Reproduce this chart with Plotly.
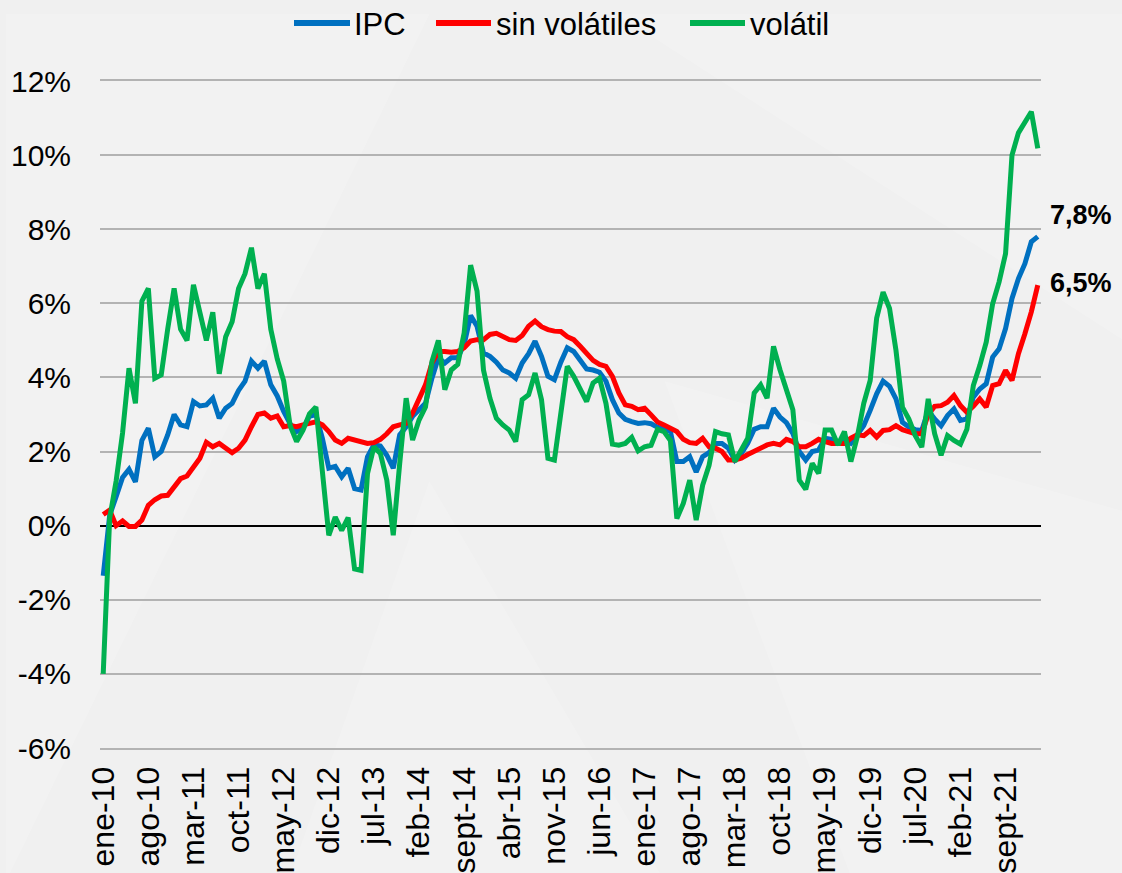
import plotly.graph_objects as go

# ---------------- data ----------------
MES = ["ene", "feb", "mar", "abr", "may", "jun", "jul", "ago", "sept", "oct", "nov", "dic"]
meses = [f"{MES[m]}-{str(y)[2:]}" for y in range(2010, 2023) for m in range(12)][:146]
tick_labels = meses[::7]

ipc = [
    -1.35, 0.28, 0.78, 1.30, 1.52, 1.18, 2.30, 2.63, 1.86, 2.00,
    2.45, 3.00, 2.72, 2.67, 3.35, 3.23, 3.26, 3.44, 2.90, 3.17,
    3.30, 3.65, 3.90, 4.44, 4.25, 4.44, 3.80, 3.50, 3.08, 2.75,
    2.54, 2.63, 2.95, 3.00, 2.36, 1.55, 1.60, 1.32, 1.55, 1.00,
    0.96, 1.86, 2.18, 2.15, 1.90, 1.55, 2.45, 2.67, 2.95, 3.13,
    3.30, 3.98, 4.53, 4.39, 4.53, 4.53, 4.89, 5.67, 5.38, 4.66,
    4.57, 4.41, 4.20, 4.12, 3.98, 4.39, 4.64, 4.98, 4.57, 4.03,
    3.94, 4.41, 4.80, 4.70, 4.48, 4.23, 4.20, 4.14, 3.90, 3.40,
    3.04, 2.87, 2.81, 2.76, 2.78, 2.75, 2.66, 2.60, 2.54, 1.73,
    1.73, 1.86, 1.45, 1.86, 1.97, 2.22, 2.22, 2.09, 1.77, 1.95,
    2.22, 2.60, 2.67, 2.67, 3.17, 2.93, 2.78, 2.49, 2.00, 1.77,
    2.00, 2.04, 2.36, 2.33, 2.22, 2.31, 2.22, 2.45, 2.70, 3.11,
    3.56, 3.90, 3.76, 3.42, 2.79, 2.66, 2.59, 2.57, 3.11, 2.88,
    2.70, 2.97, 3.15, 2.84, 2.88, 3.47, 3.69, 3.83, 4.55, 4.77,
    5.32, 6.13, 6.67, 7.07, 7.66, 7.80,
]

sin_volatiles = [
    0.30, 0.42, 0.00, 0.13, -0.02, -0.02, 0.15, 0.55, 0.70, 0.80,
    0.82, 1.05, 1.27, 1.34, 1.60, 1.82, 2.25, 2.13, 2.22, 2.09,
    1.97, 2.09, 2.31, 2.67, 3.00, 3.04, 2.90, 2.96, 2.67, 2.70,
    2.67, 2.72, 2.76, 2.80, 2.72, 2.54, 2.31, 2.22, 2.36, 2.31,
    2.27, 2.22, 2.24, 2.33, 2.48, 2.67, 2.72, 2.76, 3.04, 3.44,
    3.80, 4.39, 4.70, 4.70, 4.68, 4.70, 4.80, 4.98, 5.02, 5.02,
    5.16, 5.19, 5.10, 5.02, 5.00, 5.13, 5.38, 5.52, 5.37, 5.29,
    5.25, 5.24, 5.10, 5.02, 4.84, 4.66, 4.46, 4.35, 4.30, 4.03,
    3.58, 3.26, 3.22, 3.13, 3.17, 2.99, 2.80, 2.72, 2.61, 2.54,
    2.33, 2.24, 2.22, 2.36, 2.13, 2.09, 2.00, 1.77, 1.77, 1.82,
    1.92, 2.00, 2.09, 2.18, 2.22, 2.18, 2.33, 2.27, 2.13, 2.13,
    2.22, 2.33, 2.27, 2.22, 2.22, 2.22, 2.36, 2.45, 2.43, 2.57,
    2.39, 2.57, 2.59, 2.70, 2.59, 2.52, 2.48, 2.48, 3.00, 3.22,
    3.24, 3.33, 3.51, 3.24, 3.06, 3.22, 3.42, 3.20, 3.78, 3.83,
    4.19, 3.92, 4.64, 5.18, 5.77, 6.49,
]

volatil = [
    -4.00, 0.20, 1.20, 2.50, 4.25, 3.30, 6.06, 6.40, 3.98, 4.07,
    5.30, 6.40, 5.30, 5.00, 6.50, 5.75, 5.00, 5.76, 4.10, 5.10,
    5.50, 6.40, 6.80, 7.50, 6.40, 6.80, 5.30, 4.50, 3.90, 2.70,
    2.27, 2.58, 3.02, 3.20, 1.40, -0.26, 0.23, -0.13, 0.22, -1.17,
    -1.21, 1.40, 2.13, 1.95, 1.23, -0.26, 1.68, 3.44, 2.31, 2.85,
    3.20, 4.43, 5.00, 3.67, 4.20, 4.35, 5.20, 7.03, 6.33, 4.20,
    3.44, 2.90, 2.72, 2.58, 2.27, 3.40, 3.53, 4.12, 3.40, 1.82,
    1.77, 3.08, 4.30, 4.03, 3.67, 3.35, 3.85, 3.98, 3.30, 2.20,
    2.17, 2.22, 2.38, 2.02, 2.13, 2.17, 2.60, 2.54, 2.30, 0.19,
    0.60, 1.23, 0.15, 1.09, 1.63, 2.54, 2.48, 2.45, 1.73, 2.04,
    2.36, 3.58, 3.80, 3.44, 4.84, 4.21, 3.67, 3.13, 1.23, 0.98,
    1.68, 1.41, 2.58, 2.58, 2.18, 2.54, 1.73, 2.40, 3.30, 3.92,
    5.60, 6.30, 5.86, 4.73, 3.20, 2.88, 2.43, 2.12, 3.42, 2.48,
    1.90, 2.43, 2.30, 2.20, 2.60, 3.78, 4.32, 4.95, 5.99, 6.58,
    7.34, 10.00, 10.60, 10.90, 11.17, 10.18,
]

series_names = ["IPC", "sin volátiles", "volátil"]
series_colors = ["#0070C0", "#FF0000", "#00B050"]

y_ticks = [-6, -4, -2, 0, 2, 4, 6, 8, 10, 12]
y_tick_labels = [f"{v}%" for v in y_ticks]

end_labels = ["7,8%", "6,5%"]

# ---------------- figure ----------------
FONT = "Liberation Sans, Arial, sans-serif"
W, H = 1122, 873
ML, MR, MT, MB = 100, 81, 81, 125
PW, PH = W - ML - MR, H - MT - MB


def px_x(p):
    return (p - ML) / PW


def px_y(p):
    return 1 - (p - MT) / PH


fig = go.Figure()
for name, vals, col in zip(series_names, [ipc, sin_volatiles, volatil], series_colors):
    fig.add_trace(go.Scatter(x=meses, y=vals, name=name, mode="lines",
                             line=dict(color=col, width=5), showlegend=False))

# faint background facets
bg_polys = [
    "M -0.1 -0.2 L 0.35 1.1 L -0.1 1.1 Z",
    "M 0.55 1.1 L 1.1 1.1 L 1.1 0.6 Z",
    "M 0.2 -0.2 L 0.6 -0.2 L 0.35 0.4 Z",
    "M 0.6 0.55 L 1.1 0.35 L 1.1 -0.2 L 0.8 -0.2 Z",
]
shapes = []
for p in bg_polys:
    shapes.append(dict(type="path", path=p, xref="paper", yref="paper",
                       fillcolor="rgba(255,255,255,0.18)", line=dict(width=0), layer="below"))

# legend drawn at top (line sample + label)
legend_line_x = [(294, 350), (436, 491), (690, 745)]
legend_text_x = [352, 494, 748]
legend_y = px_y(23)
annotations = []
for (x0, x1), tx, name, col in zip(legend_line_x, legend_text_x, series_names, series_colors):
    shapes.append(dict(type="line", xref="paper", yref="paper",
                       x0=px_x(x0), x1=px_x(x1), y0=legend_y, y1=legend_y,
                       line=dict(color=col, width=6)))
    annotations.append(dict(text=name, xref="paper", yref="paper", x=px_x(tx), y=px_y(24),
                            xanchor="left", yanchor="middle", showarrow=False,
                            font=dict(size=31, family=FONT, color="#000000")))

annotations += [
    dict(text=f"<b>{end_labels[0]}</b>", xref="paper", yref="y", x=px_x(1114), y=8.38,
         xanchor="right", yanchor="middle", showarrow=False,
         font=dict(size=27, family=FONT, color="#000000")),
    dict(text=f"<b>{end_labels[1]}</b>", xref="paper", yref="y", x=px_x(1114), y=6.55,
         xanchor="right", yanchor="middle", showarrow=False,
         font=dict(size=27, family=FONT, color="#000000")),
]

fig.update_layout(
    width=W, height=H,
    margin=dict(l=ML, r=MR, t=MT, b=MB, autoexpand=False),
    paper_bgcolor="#f0f0f0",
    plot_bgcolor="rgba(0,0,0,0)",
    font=dict(family=FONT, color="#000000", size=28),
    showlegend=False,
    xaxis=dict(
        type="category",
        categoryorder="array", categoryarray=meses,
        range=[-0.5, 145.5],
        tickmode="array", tickvals=tick_labels, ticktext=tick_labels,
        tickangle=-90,
        ticks="outside", ticklen=4, tickcolor="rgba(0,0,0,0)",
        tickfont=dict(size=32, family=FONT),
        showgrid=False, zeroline=False,
        showline=True, mirror=True, linecolor="#b3b3b3", linewidth=2,
        automargin=False,
    ),
    yaxis=dict(
        range=[-6, 12],
        tickmode="array", tickvals=y_ticks, ticktext=y_tick_labels,
        ticks="outside", ticklen=22, tickcolor="rgba(0,0,0,0)",
        tickfont=dict(size=30, family=FONT),
        showgrid=True, gridcolor="#b3b3b3", gridwidth=2,
        zeroline=True, zerolinecolor="#000000", zerolinewidth=2,
        showline=False,
        automargin=False,
    ),
    shapes=shapes,
    annotations=annotations,
)

fig.write_html(
    "out.html",
    config={"displayModeBar": False},
    post_script="document.body.style.margin='0';document.body.style.overflow='hidden';",
)
